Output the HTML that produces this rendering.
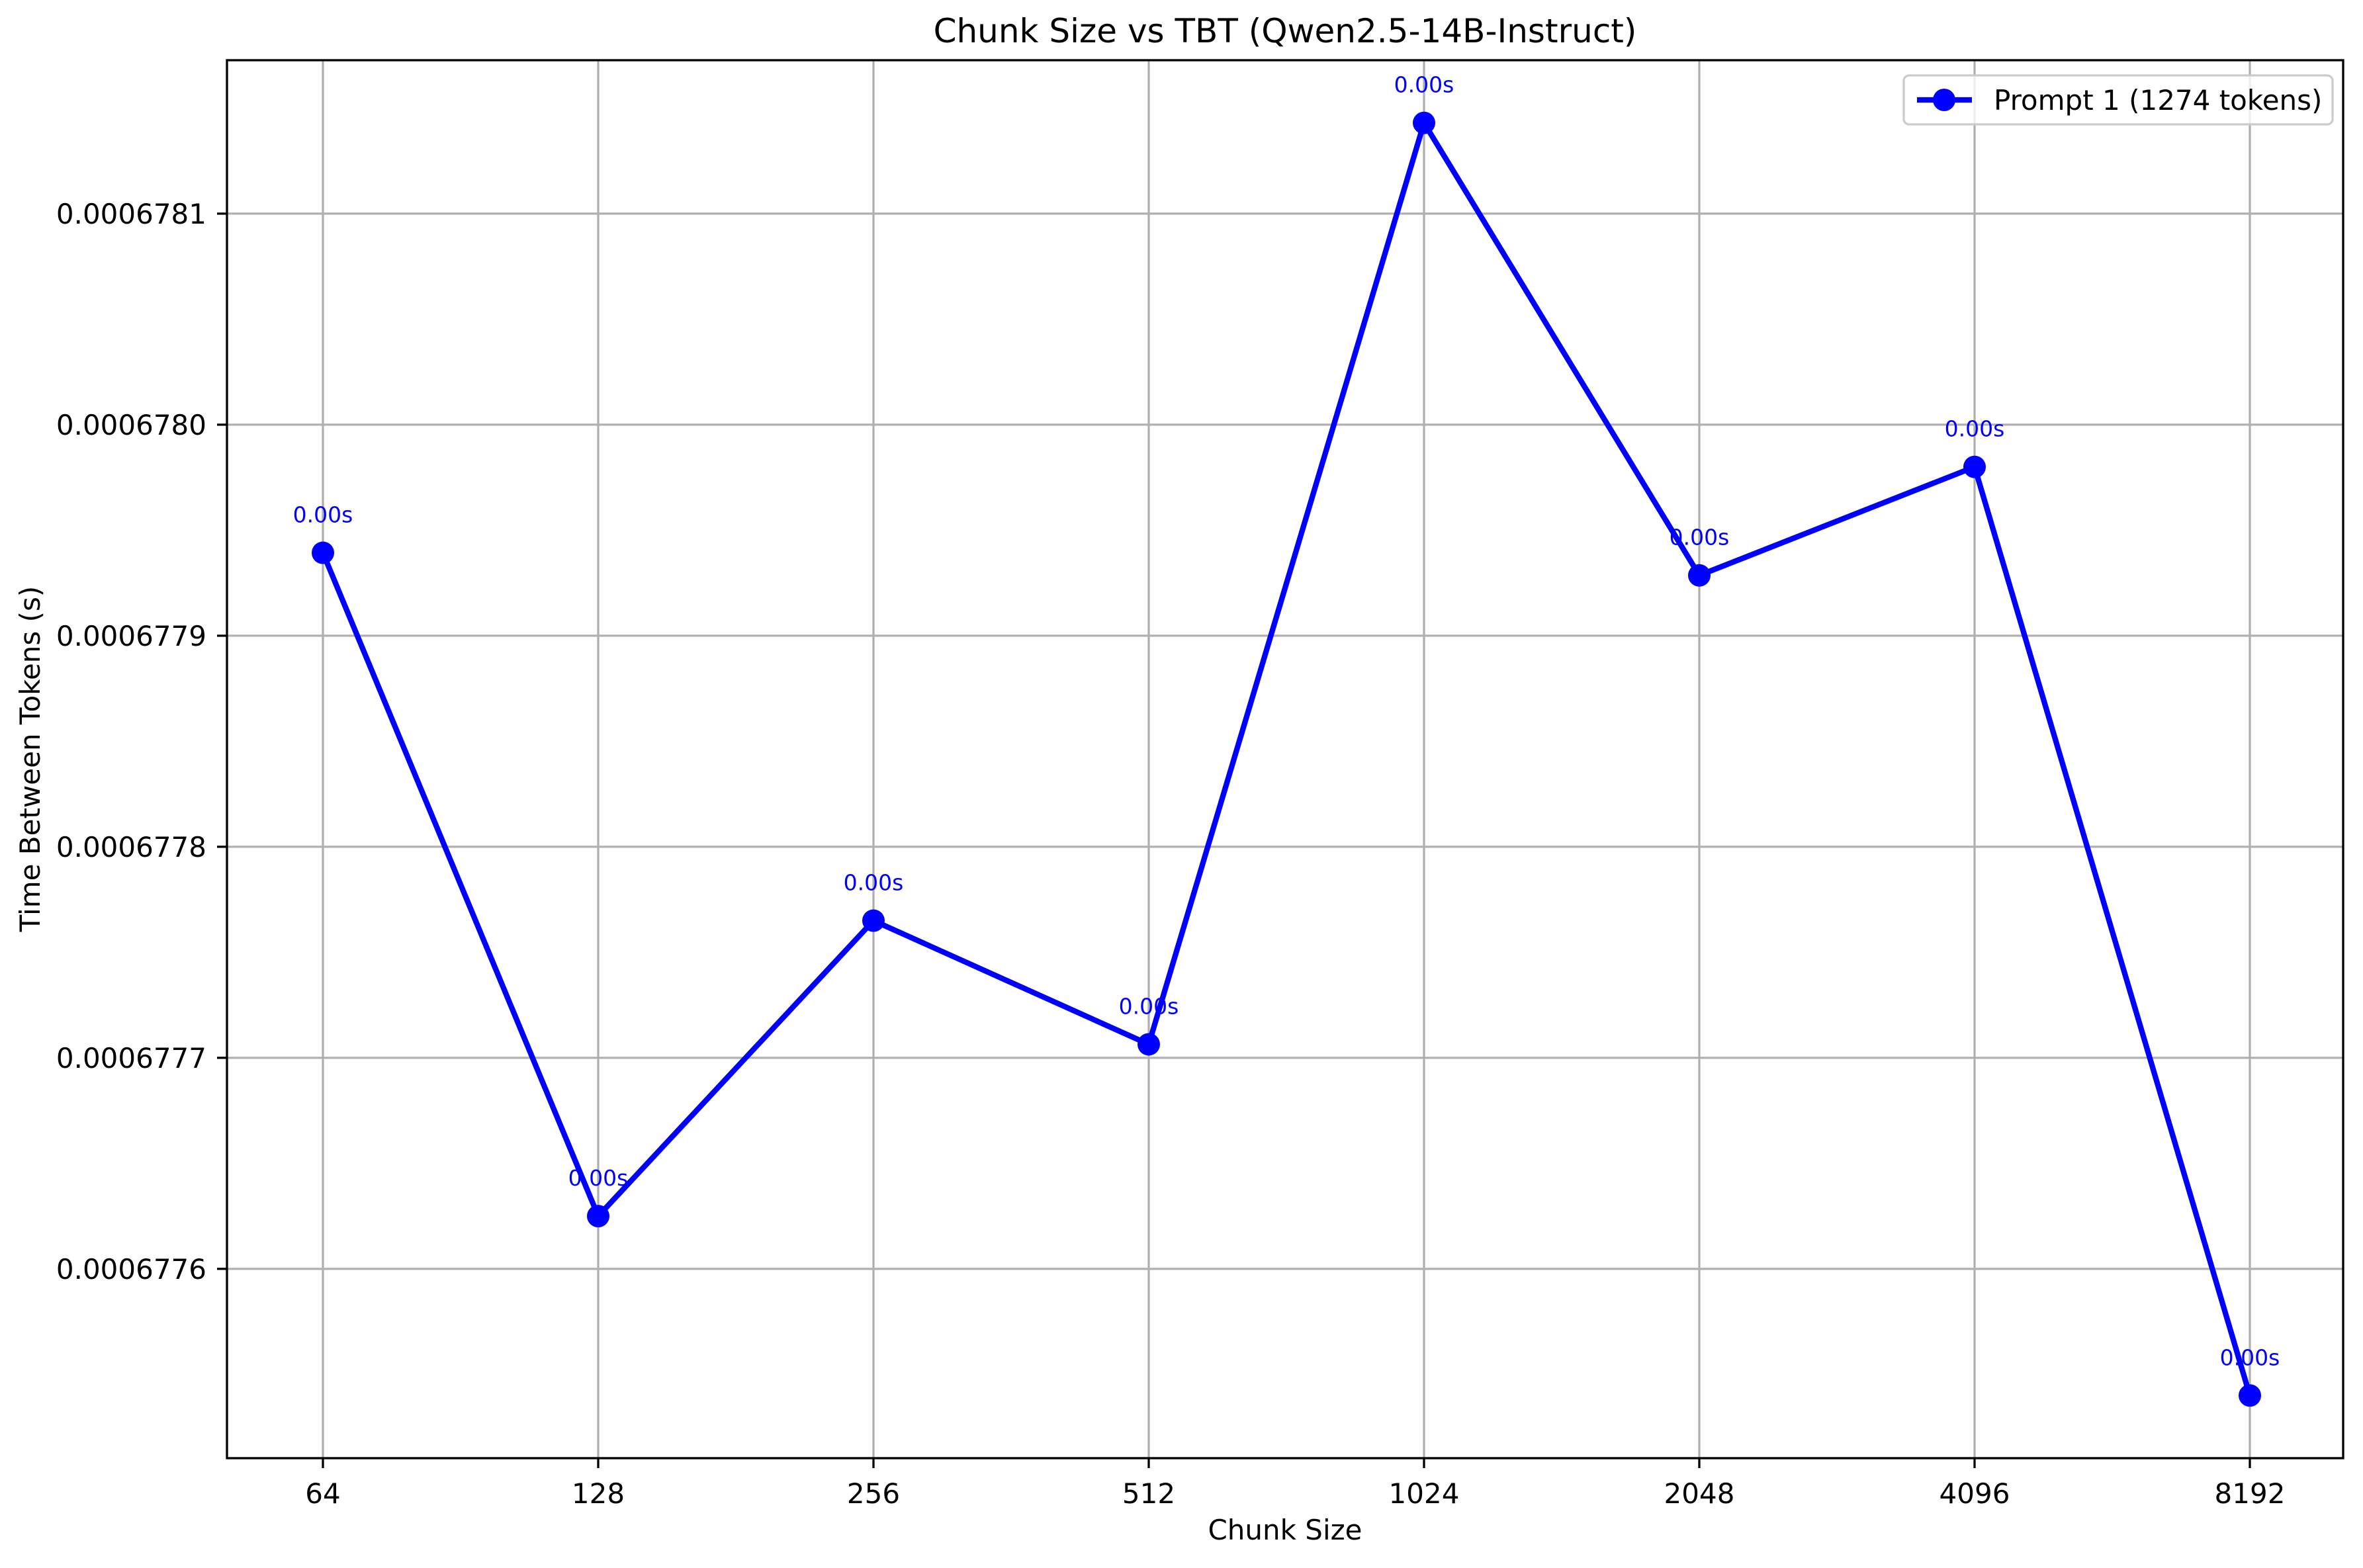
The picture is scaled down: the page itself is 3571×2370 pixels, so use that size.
<!DOCTYPE html>
<html><head><meta charset="utf-8"><style>
html,body{margin:0;padding:0;background:#fff}
svg text{font-family:"DejaVu Sans","Liberation Sans",sans-serif}
</style></head><body>
<svg id="chart" width="3571" height="2365" viewBox="0 0 3571 2365" xmlns="http://www.w3.org/2000/svg">
<rect width="3571" height="2365" fill="#fff"/>
<g id="grid"></g><g id="axes"></g><g id="series"></g><g id="labels"></g>
</svg>
<script>
const categories = ["64","128","256","512","1024","2048","4096","8192"];
const tbtValues = [0.00067793929, 0.00067762500, 0.00067776500, 0.00067770640, 0.00067814300, 0.00067792860, 0.00067798000, 0.00067754000];
const yTicks = [0.0006776, 0.0006777, 0.0006778, 0.0006779, 0.0006780, 0.0006781];
const yTickLabels = ["0.0006776","0.0006777","0.0006778","0.0006779","0.0006780","0.0006781"];
const annotations = ["0.00s","0.00s","0.00s","0.00s","0.00s","0.00s","0.00s","0.00s"];

const NS="http://www.w3.org/2000/svg";
const L=343, R=3541, T=91, B=2204;
const yMin=0.00067751030, yMax=0.00067817270;
const x0=488, dx=416;
function xPos(i){return x0+i*dx;}
function yPos(v){return B-(v-yMin)/(yMax-yMin)*(B-T);}
function mk(parent,tag,attrs,text){const e=document.createElementNS(NS,tag);for(const k in attrs)e.setAttribute(k,attrs[k]);if(text!==undefined)e.textContent=text;document.getElementById(parent).appendChild(e);return e;}

categories.forEach((c,i)=>{
  const g=mk('grid','line',{x1:xPos(i),x2:xPos(i),y1:T,y2:B,stroke:'#b0b0b0','stroke-width':3.3});
  
  
  const t=mk('axes','line',{x1:xPos(i),x2:xPos(i),y1:B,y2:B+15,stroke:'#000','stroke-width':3.3});
  
  
  const l=mk('axes','text',{x:xPos(i),y:2272,'font-size':42,'text-anchor':'middle'},c);
  
  
});
yTicks.forEach((v,i)=>{
  const y=yPos(v);
  const g=mk('grid','line',{x1:L,x2:R,y1:y,y2:y,stroke:'#b0b0b0','stroke-width':3.3});
  
  
  const t=mk('axes','line',{x1:L-15,x2:L,y1:y,y2:y,stroke:'#000','stroke-width':3.3});
  
  
  const l=mk('axes','text',{x:312,y:y+15,'font-size':42,'text-anchor':'end'},yTickLabels[i]);
  
  
});
const frame=mk('axes','rect',{x:L,y:T,width:R-L,height:B-T,fill:'none',stroke:'#000','stroke-width':3.3});



const pts=tbtValues.map((v,i)=>xPos(i)+','+yPos(v)).join(' ');
const line=mk('series','polyline',{points:pts,fill:'none',stroke:'#0000ff','stroke-width':8.3,'stroke-linejoin':'round'});


tbtValues.forEach((v,i)=>{
  const c=mk('series','circle',{cx:xPos(i),cy:yPos(v),r:17,fill:'#0000ff'});
  
  
  const a=mk('series','text',{x:xPos(i),y:yPos(v)-46,'font-size':33,'text-anchor':'middle',fill:'#0000ff'},annotations[i]);
  
  
});

const title=mk('labels','text',{x:(L+R)/2,y:64,'font-size':50,'text-anchor':'middle'},'Chunk Size vs TBT (Qwen2.5-14B-Instruct)');


const xl=mk('labels','text',{x:(L+R)/2,y:2327,'font-size':42,'text-anchor':'middle'},'Chunk Size');


const yl=mk('labels','text',{x:0,y:0,'font-size':42,'text-anchor':'middle',transform:'translate(60,1147) rotate(-90)'},'Time Between Tokens (s)');



const lg=mk('labels','rect',{x:2877,y:114,width:648,height:74,rx:8,fill:'#fff','fill-opacity':0.8,stroke:'#cccccc','stroke-width':3.3});


const ll=mk('labels','line',{x1:2897,x2:2980,y1:151,y2:151,stroke:'#0000ff','stroke-width':8.3});


const lc=mk('labels','circle',{cx:2938,cy:151,r:17,fill:'#0000ff'});


const lt=mk('labels','text',{x:3013,y:166,'font-size':42},'Prompt 1 (1274 tokens)');


</script>
</body></html>
